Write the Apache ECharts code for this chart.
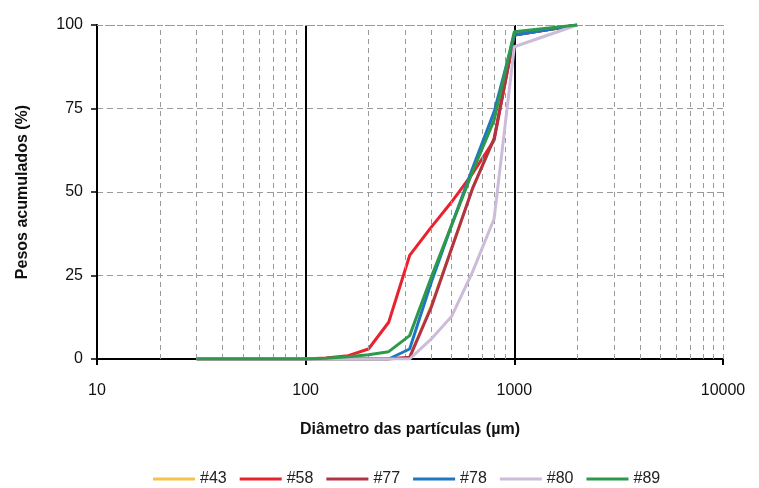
<!DOCTYPE html>
<html><head><meta charset="utf-8">
<script src="https://cdn.jsdelivr.net/npm/echarts@6/dist/echarts.min.js"></script>
<style>html,body{margin:0;padding:0;background:#fff}#c{width:759px;height:488px}</style>
</head><body><div id="c"></div>
<script>
const sizes = [30, 100, 125, 160, 200, 250, 315, 400, 500, 630, 800, 1000, 2000];
const s43 = [0, 0, 0, 0, 0, 0, 0.5, 16, 33, 51, 66, 97, 100];
const s58 = [0, 0, 0.3, 1, 3, 11, 31, 39.5, 47, 55.5, 65.5, 97, 100];
const s77 = [0, 0, 0, 0, 0, 0, 0.5, 15.5, 33, 51, 66, 97, 100];
const s78 = [0, 0, 0, 0, 0, 0, 3, 23, 40, 57, 74, 97, 100];
const s80 = [0, 0, 0, 0, 0, 0, 0, 6, 12.7, 26, 42, 93.5, 100];
const s89 = [0, 0, 0.2, 0.7, 1.3, 2.2, 7, 24.5, 40, 56, 71.5, 98, 100];
const yTicks = [0, 25, 50, 75, 100];
const minorX = [20,30,40,50,60,70,80,90,200,300,400,500,600,700,800,900,2000,3000,4000,5000,6000,7000,8000,9000,10000];
const majorX = [100, 1000];

const names = ['#43','#58','#77','#78','#80','#89'];
const colors = ['#F7C24A','#E8232E','#B03446','#1F77C4','#CDBBDA','#2C9A4A'];
const vals = [s43, s58, s77, s78, s80, s89];

const series = names.map((n, i) => ({
  name: n, type: 'line', showSymbol: false, symbol: 'none',
  data: sizes.map((x, j) => [x, vals[i][j]]),
  lineStyle: { color: colors[i], width: 3 }, itemStyle: { color: colors[i] },
  z: 3 + i
}));
series.push({
  name: 'grid', type: 'line', data: [], silent: true, z: 1,
  markLine: {
    symbol: 'none', silent: true, label: { show: false },
    data: minorX.map(v => ({ xAxis: v, lineStyle: { color: '#9a9a9a', type: [5, 4], width: 1 } }))
      .concat(majorX.map(v => ({ xAxis: v, lineStyle: { color: '#000', type: 'solid', width: 2 } })))
      .concat([{ yAxis: 100, lineStyle: { color: '#9a9a9a', type: [2, 2], width: 1 } }])
  }
});

const chart = echarts.init(document.getElementById('c'), null, { renderer: 'canvas' });
chart.setOption({
  animation: false,
  textStyle: { fontFamily: 'Liberation Sans, Arial, sans-serif' },
  grid: { left: 97, right: 36, top: 25, bottom: 129 },
  xAxis: {
    type: 'log', logBase: 10, min: 10, max: 10000,
    name: 'Diâmetro das partículas (µm)', nameLocation: 'middle', nameGap: 63,
    nameTextStyle: { fontSize: 16, fontWeight: 'bold', color: '#111' },
    axisLine: { lineStyle: { color: '#000', width: 2 } },
    axisTick: { show: true, length: 6, lineStyle: { color: '#000', width: 2 } },
    axisLabel: { fontSize: 16, color: '#111', margin: 24, formatter: v => String(Math.round(v)) },
    splitLine: { show: false }, minorTick: { show: false }
  },
  yAxis: {
    type: 'value', min: 0, max: 100, interval: 25,
    name: 'Pesos acumulados (%)', nameLocation: 'middle', nameGap: 66,
    nameTextStyle: { fontSize: 16, fontWeight: 'bold', color: '#111' },
    axisLine: { show: true, lineStyle: { color: '#000', width: 2 } },
    axisTick: { show: true, length: 6, lineStyle: { color: '#000', width: 1.5 } },
    axisLabel: { fontSize: 16, color: '#111', margin: 14 },
    splitLine: { show: true, lineStyle: { color: '#9a9a9a', type: [6, 4], width: 1 } }
  },
  legend: {
    data: names, top: 466, left: 148, itemWidth: 42, itemHeight: 3, itemGap: 13,
    icon: 'rect', textStyle: { fontSize: 16, color: '#222' }
  },
  series: series
});
</script></body></html>
